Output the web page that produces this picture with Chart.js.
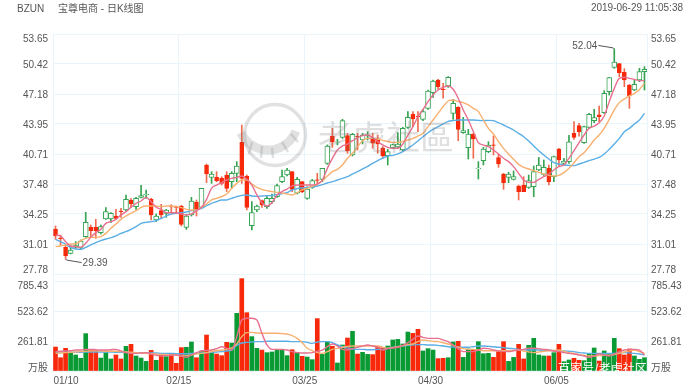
<!DOCTYPE html>
<html><head><meta charset="utf-8">
<style>html,body{margin:0;padding:0;background:#fff}canvas{display:block}</style>
<script src="https://cdn.jsdelivr.net/npm/chart.js@4/dist/chart.umd.min.js"></script>
</head><body><canvas id="c" width="700" height="391"></canvas>
<script>
const dates=["01/10","01/11","01/14","01/15","01/16","01/17","01/18","01/22","01/23","01/24","01/25","01/28","01/29","01/30","01/31","02/01","02/04","02/05","02/06","02/07","02/08","02/11","02/12","02/13","02/14","02/15","02/19","02/20","02/21","02/22","02/25","02/26","02/27","02/28","03/01","03/04","03/05","03/06","03/07","03/08","03/11","03/12","03/13","03/14","03/15","03/18","03/19","03/20","03/21","03/22","03/25","03/26","03/27","03/28","03/29","04/01","04/02","04/03","04/04","04/05","04/08","04/09","04/10","04/11","04/12","04/15","04/16","04/17","04/18","04/22","04/23","04/24","04/25","04/26","04/29","04/30","05/01","05/02","05/03","05/06","05/07","05/08","05/09","05/10","05/13","05/14","05/15","05/16","05/17","05/20","05/21","05/22","05/23","05/24","05/28","05/29","05/30","05/31","06/03","06/04","06/05","06/06","06/07","06/10","06/11","06/12","06/13","06/14","06/17","06/18","06/19","06/20","06/21","06/24","06/25","06/26","06/27","06/28"];
const open=[32.63,31.65,30.65,30.01,30.65,30.65,31.80,32.81,32.81,32.24,33.71,33.71,34.03,34.56,34.68,35.76,35.04,36.04,36.30,35.86,33.60,34.61,34.32,35.06,35.00,35.11,32.81,34.14,35.54,34.97,39.53,38.20,38.20,38.09,38.45,37.73,38.63,41.97,38.34,32.99,34.68,35.69,35.04,35.58,36.12,37.73,38.45,38.81,36.48,37.73,35.94,37.12,37.94,37.98,39.71,42.66,41.98,42.51,42.69,40.61,42.61,42.22,42.74,42.40,42.33,41.36,40.54,41.40,41.47,41.15,43.59,44.99,44.77,44.45,45.64,47.33,48.69,47.72,48.05,45.10,45.75,43.02,41.40,42.87,39.14,40.00,40.97,41.70,40.32,38.56,38.20,37.98,37.26,37.37,37.12,37.19,38.99,38.52,39.17,38.27,41.25,39.71,39.89,42.94,43.77,41.94,43.59,44.31,44.95,45.17,47.43,50.06,50.45,49.52,48.15,47.61,48.69,49.59];
const high=[32.95,31.98,30.91,30.80,31.27,31.45,34.43,33.06,33.67,33.06,34.93,34.39,34.75,34.86,36.30,35.90,36.04,37.34,36.83,35.94,34.25,35.29,34.75,35.25,35.11,35.18,34.21,36.04,35.76,37.01,39.64,38.81,38.81,38.27,38.81,38.81,39.89,43.84,38.45,35.58,35.22,35.76,36.19,36.40,37.48,38.99,39.17,38.81,38.20,37.73,37.19,37.98,38.63,39.17,41.69,43.48,42.30,44.45,42.94,42.94,42.94,42.94,43.12,42.94,42.76,41.51,41.22,41.79,43.02,43.59,45.28,45.28,45.28,45.53,47.61,48.69,48.76,48.33,49.05,46.61,45.82,44.67,43.37,42.94,39.89,41.43,42.04,42.65,40.71,38.63,38.74,38.88,37.37,38.27,38.45,39.42,40.35,40.07,39.53,40.50,41.32,40.25,42.73,44.20,44.02,43.73,45.10,45.53,45.89,47.54,48.98,52.04,50.49,49.91,48.22,48.69,49.95,50.13];
const low=[31.52,30.91,29.39,29.94,30.55,30.44,31.73,31.73,31.62,32.09,33.67,33.31,33.67,33.89,34.61,34.97,34.75,35.97,35.94,33.60,33.42,33.74,33.89,34.39,34.50,32.95,32.59,34.03,34.03,34.86,37.63,37.55,37.73,37.37,36.66,37.01,37.73,37.55,34.68,32.52,34.50,34.97,34.86,35.40,36.04,37.63,38.34,36.66,36.40,36.55,35.83,37.01,37.37,37.73,39.60,41.43,41.69,42.40,40.79,40.50,41.15,41.79,42.22,41.33,40.79,40.25,39.53,41.33,41.33,40.97,43.48,43.66,43.12,44.31,45.53,46.82,47.69,46.72,47.90,44.45,42.15,42.94,40.18,40.25,38.02,39.53,40.86,40.61,39.28,36.91,37.62,37.91,35.76,36.65,37.01,36.11,38.92,38.41,37.37,37.73,39.42,39.53,39.71,42.29,42.65,41.86,43.48,44.09,44.20,45.10,47.07,49.95,49.05,47.97,45.64,47.54,48.51,47.61];
const close=[31.88,31.60,29.76,30.37,30.83,31.34,33.35,32.45,32.45,32.88,34.50,34.32,33.78,34.50,35.83,35.33,35.94,36.22,36.40,34.14,34.03,34.14,34.68,35.00,34.95,33.13,34.03,35.65,34.68,37.01,38.56,38.56,37.84,37.55,37.01,38.63,39.42,38.09,34.97,34.39,35.11,35.22,35.94,35.94,37.30,38.27,38.99,36.91,37.98,36.66,36.94,37.84,37.88,39.17,41.58,42.01,42.03,44.31,41.04,42.84,42.55,42.76,42.78,41.87,41.79,40.50,40.97,41.72,41.79,43.48,44.67,44.49,44.71,45.28,47.51,48.58,47.97,47.66,48.98,46.18,43.37,43.23,42.87,42.33,39.20,41.25,41.68,41.64,39.64,37.62,38.56,38.27,36.65,36.65,37.84,38.81,39.53,39.28,37.73,40.43,40.07,39.96,42.04,42.51,43.12,43.66,44.99,44.63,44.74,47.25,48.94,50.63,49.48,48.69,46.97,48.22,49.59,49.84];
const ma5=[31.98,31.88,31.27,30.80,30.73,30.65,31.09,31.73,32.24,32.59,33.24,33.42,33.67,34.14,34.50,34.97,35.40,35.65,36.04,35.58,34.97,34.75,34.39,34.39,34.39,34.25,34.14,34.25,34.61,34.97,35.83,37.01,37.37,37.63,37.91,38.09,38.20,38.34,37.98,37.37,36.30,35.47,35.11,35.47,36.30,36.66,36.94,37.27,37.37,37.37,37.37,37.37,37.48,37.91,39.17,40.25,41.15,41.58,41.79,42.15,42.48,42.69,42.76,42.48,42.05,41.69,41.43,41.33,41.33,41.79,42.76,43.66,44.74,45.53,46.36,47.08,47.61,47.90,48.05,47.69,46.72,45.46,44.38,43.12,41.94,41.68,41.50,41.15,40.71,40.25,39.89,39.35,38.63,37.91,37.66,37.66,37.98,38.27,38.56,38.99,39.35,39.53,40.25,41.07,41.94,42.76,43.48,43.73,44.09,44.81,46.36,47.79,48.87,48.98,48.87,48.76,48.62,48.62];
const ma10=[30.73,30.80,30.91,31.01,31.01,31.37,31.62,31.73,31.73,31.80,32.16,32.70,33.17,33.67,34.03,34.32,34.61,34.97,35.11,35.11,35.11,35.04,35.11,35.11,35.04,34.93,34.75,34.68,34.68,34.97,35.33,35.76,35.94,36.12,36.40,37.01,37.55,37.91,37.91,37.48,37.12,36.91,36.76,36.66,36.58,36.51,36.40,36.30,36.55,36.84,37.01,37.23,37.45,37.84,38.34,38.81,39.06,39.53,40.25,40.79,41.51,42.15,42.40,42.40,42.33,42.19,42.05,41.97,41.97,42.08,42.22,42.40,42.66,42.94,43.66,44.38,45.10,45.82,46.43,46.54,46.36,46.25,46.00,45.64,45.28,44.38,43.48,42.87,42.04,41.32,40.71,40.14,39.60,39.28,39.10,38.92,38.74,38.56,38.41,38.34,38.41,38.70,39.17,39.78,40.43,40.86,41.50,42.22,42.76,43.48,44.45,45.46,46.25,46.64,46.97,47.25,47.68,48.33];
const ma20=[31.52,31.27,31.01,30.65,30.48,30.44,30.65,30.91,31.16,31.37,31.55,31.70,31.88,32.16,32.34,32.59,32.88,33.24,33.35,33.42,33.53,33.78,34.03,34.25,34.32,34.39,34.46,34.61,34.68,34.86,35.15,35.40,35.58,35.76,35.76,35.94,36.12,36.26,36.30,36.19,36.15,36.19,36.22,36.26,36.33,36.44,36.55,36.84,36.98,37.05,37.09,37.16,37.27,37.41,37.59,37.73,37.91,38.09,38.27,38.56,38.81,39.10,39.39,39.71,40.00,40.28,40.50,40.57,40.72,40.97,41.33,41.69,42.12,42.58,43.01,43.37,43.66,43.95,44.24,44.31,44.38,44.38,44.38,44.38,44.34,44.31,44.34,44.31,44.09,43.84,43.59,43.30,42.94,42.58,42.12,41.58,41.07,40.61,40.17,39.78,39.64,39.53,39.49,39.46,39.64,39.82,40.00,40.17,40.35,40.71,41.22,41.79,42.40,43.12,43.48,43.95,44.38,45.10];
const volume=[209,116,198,160,140,111,326,180,180,113,160,105,140,105,215,233,131,113,84,180,93,154,125,154,67,204,207,253,116,175,314,163,148,134,250,244,503,806,509,300,198,183,160,166,180,180,134,186,163,128,122,99,457,145,256,215,70,227,288,346,148,163,145,143,215,204,218,271,276,236,340,329,364,175,195,183,108,111,116,253,259,119,192,183,256,151,154,119,169,256,84,119,233,105,224,285,140,131,131,160,233,81,96,111,93,90,148,201,87,175,154,285,195,140,192,131,102,116];
const volMa5=[169,172,175,177,183,183,189,189,186,183,183,186,189,175,160,154,154,157,160,148,137,131,134,137,140,131,119,140,160,175,180,183,195,212,198,183,300,445,460,460,445,329,227,189,189,189,183,169,160,157,157,160,172,183,212,236,218,189,183,195,207,218,227,218,207,183,195,201,207,224,247,276,305,294,285,285,285,271,256,227,195,169,169,169,183,198,195,183,175,169,169,177,183,189,198,198,195,189,183,175,169,160,154,148,140,131,119,131,148,140,131,148,169,183,189,189,183,140];
const volMa10=[154,157,160,163,166,169,172,175,177,175,172,172,172,169,166,163,160,157,154,151,148,145,143,140,137,131,134,140,148,154,160,169,177,183,189,201,236,300,335,337,332,329,329,329,329,326,323,308,285,247,198,177,160,154,169,189,198,207,215,218,218,218,218,218,218,207,198,204,212,221,230,236,256,271,265,259,256,247,236,224,207,195,189,189,183,177,177,177,177,177,177,180,183,175,166,160,166,172,177,180,183,172,160,154,143,137,131,131,134,137,137,143,154,166,175,183,169,154];
const volMa20=[166,166,163,163,163,163,166,166,166,166,166,166,163,163,163,160,160,160,157,157,157,154,154,154,151,151,151,154,154,157,160,163,166,169,175,183,224,244,250,253,256,256,259,259,259,259,259,256,256,256,250,241,253,256,256,247,227,212,201,192,189,189,186,186,189,189,198,207,212,218,224,227,230,230,227,227,224,218,212,209,207,207,207,212,218,218,215,212,207,204,198,195,189,186,183,183,183,180,180,177,177,175,172,169,160,157,154,154,154,154,154,154,157,160,157,154,148,140];
const priceTicks=[53.65,50.42,47.18,43.95,40.71,37.48,34.25,31.01,27.78];
const volumeTicks=[785.43,523.62,261.81,0];
const dateTickIndex=[0,25,50,75,100];
const highNote={index:111,value:52.04};
const lowNote={index:2,value:29.39};

const RED='#f7290a',GREEN='#0a9a34',GREEN_LINE='#35a352',RED_WICK='#f06a50',GRID='#e9f4fb',TXT='#555';
const PINK='#e8708e',ORANGE='#f8b070',BLUE='#5aaee6';
const FONT="'Liberation Sans','Noto Sans CJK SC',sans-serif";
const up=close.map((c,i)=>c>=open[i]);

const nudges={
  yL:{'*':[0,1],'53.65':[0,5],'27.78':[0,-4]}, yR:{'*':[0,1],'53.65':[0,5],'27.78':[0,-4]},
  vL:{'*':[0,1],'785.43':[0,5],'万股':[0,-3]}, vR:{'*':[0,1],'785.43':[0,5],'万股':[0,-3]},
  xGrid:{'01/10':[13,0]}
};
const axisNudge={id:'axisNudge',beforeDraw(chart){
  for(const id in nudges){
    const s=chart.scales[id];
    for(const it of s.getLabelItems(chart.chartArea)){
      const n=nudges[id][String(it.label)]||nudges[id]['*'];
      if(n){it.options.translation=[it.options.translation[0]+n[0],it.options.translation[1]+n[1]];}
    }
  }
}};
const notes={id:'notes',afterDraw(chart){
  const c=chart.ctx,xs=chart.scales.x,ys=chart.scales.yL;
  c.save();
  // watermark
  c.strokeStyle='rgba(120,120,120,.22)';c.fillStyle='rgba(120,120,120,.24)';
  c.lineWidth=3.4;c.beginPath();c.arc(275,135,30.5,0,Math.PI*2);c.stroke();
  c.lineWidth=9;c.lineCap='butt';c.beginPath();c.arc(268,120,30,0.12*Math.PI,0.86*Math.PI);c.stroke();
  c.lineWidth=2.5;
  for(const [a,b,d,e] of [[252,142,249,154],[262,146,261,158],[272,148,273,158],[282,142,288,152],[291,134,298,142]]){c.beginPath();c.moveTo(a,b);c.lineTo(d,e);c.stroke();}
  c.font="34px 'Noto Sans CJK SC'";c.textAlign='left';c.textBaseline='middle';
  c.fillText('老虎社區',318,137);
  // header
  c.fillStyle=TXT;c.font='10px '+FONT;c.textBaseline='middle';c.textAlign='left';
  c.fillText('BZUN',17,9);c.fillText('宝尊电商 - 日K线图',58,9);
  c.textAlign='right';c.fillText('2019-06-29 11:05:38',683,8);
  // extreme labels
  const hx=xs.getPixelForValue(highNote.index),hy=ys.getPixelForValue(highNote.value);
  const lx=xs.getPixelForValue(lowNote.index),ly=ys.getPixelForValue(lowNote.value);
  c.strokeStyle='#555';c.lineWidth=1;
  c.beginPath();c.moveTo(hx,hy);c.lineTo(hx-1,hy-1);c.lineTo(hx-16,hy-3.5);c.stroke();
  c.beginPath();c.moveTo(lx,ly);c.lineTo(lx+1,ly+1);c.lineTo(lx+16,ly+3.5);c.stroke();
  c.fillStyle=TXT;c.textAlign='right';c.fillText(highNote.value.toFixed(2),hx-17,hy-2.5);
  c.textAlign='left';c.fillText(lowNote.value.toFixed(2),lx+17,ly+4.5);
  // source mark
  c.fillStyle='#fff';c.font="12px 'Noto Sans CJK SC'";c.textAlign='left';c.textBaseline='middle';
  c.fillText('百家号/老虎社区',558,368);
  c.restore();
}};
const lineDs=(data,color,axis)=>({type:'line',data,yAxisID:axis,borderColor:color,borderWidth:1.4,pointRadius:0,cubicInterpolationMode:'monotone',order:0,clip:false});
const setTicks=list=>s=>{s.ticks=list.map(v=>({value:v}));};
const yBase={type:'linear',border:{display:false},ticks:{color:TXT,font:{family:FONT,size:10},autoSkip:false}};
const priceAxis=(pos,weight,grid)=>({...yBase,position:pos,stack:pos,stackWeight:247,weight,min:27.78-7*25.87/240,max:53.65,
  afterBuildTicks:setTicks(priceTicks),afterFit:s=>{s.width=53;},
  grid:{display:grid,color:GRID,drawTicks:false},
  ticks:{...yBase.ticks,padding:pos==='left'?5:4,callback:v=>v.toFixed(2)}});
const volAxis=(pos,weight,grid)=>({...yBase,position:pos,stack:pos,stackWeight:90,weight,min:0,max:785.43,
  afterBuildTicks:setTicks(volumeTicks),afterFit:s=>{s.width=53;},
  grid:{display:grid,color:GRID,drawTicks:false},
  ticks:{...yBase.ticks,padding:pos==='left'?5:4,callback:v=>v===0?'万股':v.toFixed(2)}});

new Chart(document.getElementById('c'),{
  type:'bar',
  data:{labels:dates,datasets:[
    lineDs(ma5,PINK,'yL'),lineDs(ma10,ORANGE,'yL'),lineDs(ma20,BLUE,'yL'),
    lineDs(volMa5,PINK,'vL'),lineDs(volMa10,ORANGE,'vL'),lineDs(volMa20,BLUE,'vL'),
    {data:open.map((o,i)=>up[i]?[o,close[i]]:null),yAxisID:'yL',grouped:false,barThickness:5,order:1,
      backgroundColor:'#fff',borderColor:GREEN_LINE,borderWidth:1,borderSkipped:false},
    {data:open.map((o,i)=>up[i]?null:[close[i],o]),yAxisID:'yL',grouped:false,barThickness:4,order:1,
      backgroundColor:RED,borderColor:RED,borderWidth:1,borderSkipped:false},
    {data:low.map((l,i)=>[l,high[i]]),yAxisID:'yL',grouped:false,barThickness:1,order:2,
      backgroundColor:up.map(u=>u?GREEN_LINE:RED_WICK),borderWidth:0},
    {data:volume,yAxisID:'vL',grouped:false,barThickness:4,order:3,clip:false,
      backgroundColor:up.map(u=>u?GREEN:RED),borderWidth:0}
  ]},
  options:{
    responsive:false,animation:false,
    layout:{padding:{top:34,left:0,right:0,bottom:0}},
    plugins:{legend:{display:false},tooltip:{enabled:false}},
    scales:{
      x:{type:'category',offset:true,display:false},
      xGrid:{type:'linear',axis:'x',position:'bottom',min:-0.5,max:117.5,offset:false,beginAtZero:false,
        afterBuildTicks:setTicks(dateTickIndex.map(i=>i-0.5).concat([117.5])),afterFit:s=>{s.height=20;},
        border:{display:false},
        grid:{offset:false,color:GRID,drawTicks:false},
        ticks:{color:TXT,font:{family:FONT,size:10},padding:4,maxRotation:0,autoSkip:false,callback:v=>dates[v+0.5]||''}},
      yL:priceAxis('left',1,true),
      vL:volAxis('left',0,true),
      yR:priceAxis('right',0,false),
      vR:volAxis('right',1,false)
    }
  },
  plugins:[axisNudge,notes]
});
</script></body></html>
